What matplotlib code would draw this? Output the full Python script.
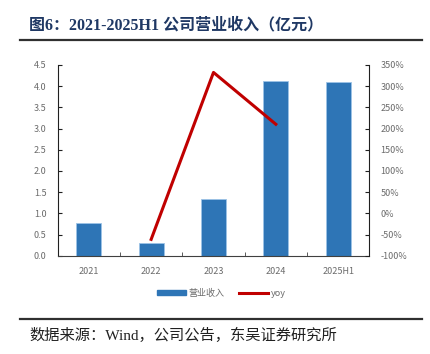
import numpy as np
import matplotlib
matplotlib.use("Agg")
import matplotlib.pyplot as plt
from matplotlib.lines import Line2D
from matplotlib.patches import Patch

plt.rcParams['font.family'] = ['Noto Sans CJK SC', 'DejaVu Sans']
SERIF = ['Liberation Serif', 'Noto Sans CJK SC']

years   = ["2021", "2022", "2023", "2024", "2025H1"]
revenue = [0.77, 0.30, 1.34, 4.12, 4.09]
yoy_years = ["2022", "2023", "2024"]
yoy       = [-61, 332, 210]

BAR   = "#2E75B6"
LINE  = "#C00000"
TICK  = "#6b6b6b"

fig = plt.figure(figsize=(4.30, 3.54), dpi=100)
ax = fig.add_axes([0.134, 0.277, 0.725, 0.540])

x = np.arange(len(years))
ax.bar(x, revenue, width=0.4, color=BAR, edgecolor="#9DC3E6", linewidth=0.6, zorder=2)
ax.set_xlim(-0.5, len(years) - 0.5)
ax.set_ylim(0, 4.5)
ax.set_yticks(np.arange(0, 4.51, 0.5))
ax.set_yticklabels([f"{v:.1f}" for v in np.arange(0, 4.51, 0.5)])
ax.set_xticks(x)
ax.set_xticklabels(years)
ax.set_xticks(np.arange(0.5, len(years) - 1, 1), minor=True)
ax.tick_params(axis="x", which="major", length=0, labelsize=6.5, colors=TICK, pad=8)
ax.tick_params(axis="x", which="minor", direction="in", length=3, color="#404040")
ax.tick_params(axis="y", direction="in", length=3, labelsize=6.5, labelcolor=TICK, color="#202020", pad=8)
for s in ["top", "right"]:
    ax.spines[s].set_visible(False)
ax.spines["left"].set_color("#202020")
ax.spines["bottom"].set_color("#404040")

ax2 = ax.twinx()
xi = [years.index(y) for y in yoy_years]
ax2.plot(xi, yoy, color=LINE, linewidth=2.2, zorder=3)
ax2.set_ylim(-100, 350)
ax2.set_yticks(np.arange(-100, 351, 50))
ax2.set_yticklabels([f"{v}%" for v in range(-100, 351, 50)])
ax2.tick_params(axis="y", direction="in", length=3, labelsize=6.5, labelcolor=TICK, color="#202020", pad=8)
for s in ["top", "left", "bottom"]:
    ax2.spines[s].set_visible(False)
ax2.spines["right"].set_color("#202020")

handles = [Patch(color=BAR, label="营业收入"),
           Line2D([0], [0], color=LINE, linewidth=2.2, label="yoy")]
fig.legend(handles=handles, loc="center", bbox_to_anchor=(0.515, 0.172), ncol=2,
           frameon=False, fontsize=6.5, labelcolor=TICK, handlelength=3.2,
           handleheight=0.6, handletextpad=0.3, columnspacing=1.6)

# title and rules
fig.text(0.068, 0.927, "图6：2021-2025H1 公司营业收入（亿元）", fontsize=11.5,
         fontweight="bold", color="#1F3864", va="center", ha="left", family=SERIF)
fig.add_artist(Line2D([0.047, 0.982], [0.887, 0.887], color="#303030", linewidth=1.6))
fig.add_artist(Line2D([0.047, 0.982], [0.099, 0.099], color="#303030", linewidth=1.6))
fig.text(0.068, 0.053, "数据来源：Wind，公司公告，东吴证券研究所", fontsize=11,
         color="#202020", va="center", ha="left", family=SERIF)

fig.savefig("out.png", dpi=100)
